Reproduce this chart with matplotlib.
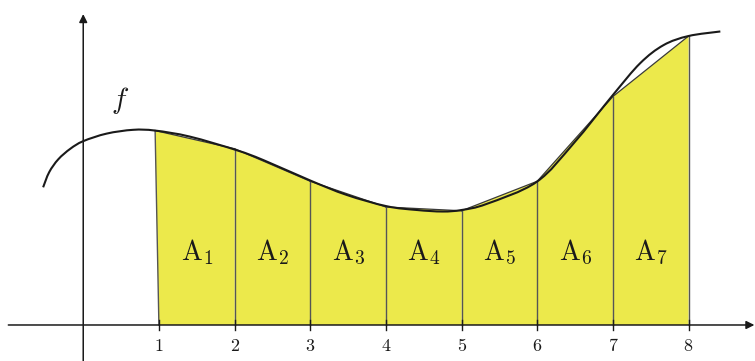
import matplotlib
matplotlib.use("Agg")
import matplotlib.pyplot as plt
from matplotlib.path import Path
from matplotlib.patches import PathPatch, Polygon

plt.rcParams['mathtext.fontset'] = 'cm'

# points along the curve f
curve_x = [-0.53, -0.45, -0.33, -0.17, 0.0, 0.31, 0.66, 0.95, 1.41, 2.03, 2.38, 3.0,
           3.48, 4.01, 4.41, 4.75, 5.0, 5.33, 5.99, 6.48, 7.0, 7.36, 7.67, 8.0, 8.42]
curve_y = [1.82, 2.02, 2.19, 2.33, 2.43, 2.53, 2.58, 2.57, 2.49, 2.31, 2.18, 1.91,
           1.72, 1.57, 1.52, 1.50, 1.52, 1.60, 1.89, 2.40, 3.04, 3.46, 3.70, 3.82, 3.88]

# trapezoid corners (x at the top, x at the bottom, height)
top_x = [0.95, 2, 3, 4, 5, 6, 7, 8]
base_x = [1, 2, 3, 4, 5, 6, 7, 8]
heights = [2.57, 2.33, 1.90, 1.56, 1.51, 1.90, 3.02, 3.82]
area_names = ['1', '2', '3', '4', '5', '6', '7']
tick_labels = ['1', '2', '3', '4', '5', '6', '7', '8']

fig = plt.figure(figsize=(7.55, 3.61), dpi=100)
ax = fig.add_axes([0, 0, 1, 1])
ax.set_xlim(-1.10, 8.878)
ax.set_ylim(-0.476, 4.296)
ax.axis('off')

yellow = '#ece94b'
edge = '#3a3a3a'

# trapezoids
for i in range(len(area_names)):
    pts = [(base_x[i], 0), (top_x[i], heights[i]), (top_x[i + 1], heights[i + 1]), (base_x[i + 1], 0)]
    ax.add_patch(Polygon(pts, closed=True, facecolor=yellow, edgecolor='none', zorder=1))
    ax.plot([top_x[i], top_x[i + 1]], [heights[i], heights[i + 1]], color=edge, lw=0.9, zorder=2)
    ax.text((base_x[i] + base_x[i + 1]) / 2, 0.96, r'$\mathrm{A}_{' + area_names[i] + '}$',
            ha='center', va='center', fontsize=20, color='#1a1a1a', zorder=4)

for i in range(len(base_x)):
    ax.plot([base_x[i], top_x[i]], [0, heights[i]], color='#555555', lw=1.0, zorder=2)

# smooth curve through every point (Catmull-Rom as cubic Bezier pieces)
n = len(curve_x)
px = [curve_x[0]] + curve_x + [curve_x[-1]]
py = [curve_y[0]] + curve_y + [curve_y[-1]]
verts = [(curve_x[0], curve_y[0])]
codes = [Path.MOVETO]
for i in range(1, n):
    c1 = (px[i] + (px[i + 1] - px[i - 1]) / 6, py[i] + (py[i + 1] - py[i - 1]) / 6)
    c2 = (px[i + 1] - (px[i + 2] - px[i]) / 6, py[i + 1] - (py[i + 2] - py[i]) / 6)
    verts += [c1, c2, (px[i + 1], py[i + 1])]
    codes += [Path.CURVE4] * 3
ax.add_patch(PathPatch(Path(verts, codes), facecolor='none', edgecolor='#1a1a1a', lw=1.5, zorder=3))

# axes with arrow heads
ax.annotate('', xy=(8.87, 0), xytext=(-0.99, 0),
            arrowprops=dict(arrowstyle='-|>', color='#1a1a1a', lw=1.1, mutation_scale=12, shrinkA=0, shrinkB=0), zorder=5)
ax.annotate('', xy=(0, 4.11), xytext=(0, -0.476),
            arrowprops=dict(arrowstyle='-|>', color='#1a1a1a', lw=1.1, mutation_scale=12, shrinkA=0, shrinkB=0), zorder=5)

for i in range(len(base_x)):
    ax.plot([base_x[i], base_x[i]], [-0.07, 0.07], color='#1a1a1a', lw=1.0, zorder=5)
    ax.text(base_x[i], -0.28, r'$\mathrm{' + tick_labels[i] + '}$', ha='center', va='center',
            fontsize=13, color='#1a1a1a')

ax.text(0.49, 2.97, r'$f$', ha='center', va='center', fontsize=21, color='#1a1a1a')

fig.savefig('out.png', dpi=100)
